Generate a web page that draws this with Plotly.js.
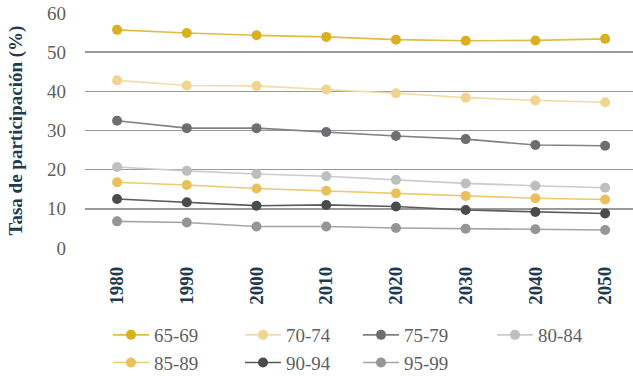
<!DOCTYPE html>
<html>
<head>
<meta charset="utf-8">
<script src="https://cdn.plot.ly/plotly-3.0.1.min.js"></script>
<style>
  html, body { margin: 0; padding: 0; background: #ffffff; }
  #chart { width: 633px; height: 376px; }
</style>
</head>
<body>
<div id="chart"></div>
<script>
// Tasa de participación por grupo de edad, 1980-2050
const years = ['1980', '1990', '2000', '2010', '2020', '2030', '2040', '2050'];
const groupNames = ['65-69', '70-74', '75-79', '80-84', '85-89', '90-94', '95-99'];

const g65_69 = [55.7, 54.9, 54.3, 53.9, 53.2, 52.9, 53.0, 53.4];
const g70_74 = [42.8, 41.5, 41.4, 40.5, 39.5, 38.4, 37.7, 37.2];
const g75_79 = [32.5, 30.6, 30.6, 29.6, 28.6, 27.8, 26.3, 26.1];
const g80_84 = [20.7, 19.7, 18.9, 18.3, 17.4, 16.5, 15.9, 15.4];
const g85_89 = [16.8, 16.1, 15.2, 14.6, 14.0, 13.3, 12.7, 12.4];
const g90_94 = [12.5, 11.7, 10.8, 11.0, 10.6, 9.7, 9.2, 8.8];
const g95_99 = [6.8, 6.5, 5.5, 5.5, 5.1, 4.9, 4.8, 4.6];

const yTitle = 'Tasa de participación (%)';

const seriesValues = [g65_69, g70_74, g75_79, g80_84, g85_89, g90_94, g95_99];
const markerColors = ['#DAAF20', '#F0D590', '#6D6E71', '#BDBEC0', '#E8C15A', '#4A4B4D', '#949598'];
const lineColors   = ['#E0BC45', '#F2DCA6', '#808184', '#CACBCD', '#EBC96F', '#5A5B5D', '#A4A5A8'];
// legend column for each series (4 columns, 2 rows)
const legendIds = ['legend', 'legend2', 'legend3', 'legend4', 'legend', 'legend2', 'legend3'];

const serif = '"Liberation Serif", "Times New Roman", serif';
const navy = '#223A4E';
const grey = '#5F5F5F';

const W = 633, H = 376;
const M = { l: 85, r: 0, t: 12.5, b: 128 };

const traces = groupNames.map((name, i) => ({
  type: 'scatter',
  mode: 'lines+markers',
  name: name,
  x: years,
  y: seriesValues[i],
  legend: legendIds[i],
  line: { color: lineColors[i], width: 1.6 },
  marker: { color: markerColors[i], size: 10, line: { width: 0 } },
  hoverinfo: 'skip'
}));

function legendAt(px) {
  return {
    xref: 'container', yref: 'container',
    x: px / W, y: 1 - 316 / H,
    xanchor: 'left', yanchor: 'top',
    orientation: 'v',
    bgcolor: 'rgba(0,0,0,0)',
    borderwidth: 0,
    itemwidth: 36,
    tracegroupgap: 0,
    font: { family: serif, size: 19, color: grey }
  };
}

const plotW = W - M.l - M.r;

const layout = {
  width: W,
  height: H,
  margin: { l: M.l, r: M.r, t: M.t, b: M.b, pad: 0, autoexpand: false },
  paper_bgcolor: '#ffffff',
  plot_bgcolor: '#ffffff',
  showlegend: true,
  xaxis: {
    type: 'category',
    range: [-0.46, 7.4],
    showgrid: false,
    zeroline: false,
    showline: false,
    ticks: '',
    tickangle: -90,
    automargin: false,
    ticklabelstandoff: 14,
    tickfont: { family: serif, size: 19, color: navy, weight: 'bold' },
    fixedrange: true
  },
  yaxis: {
    range: [0, 60],
    dtick: 10,
    showgrid: true,
    gridcolor: '#9A9A9A',
    gridwidth: 1.5,
    zeroline: false,
    showline: false,
    ticks: '',
    automargin: false,
    ticklabelstandoff: 18,
    tickfont: { family: serif, size: 19, color: grey },
    fixedrange: true
  },
  annotations: [{
    text: '<b>' + yTitle + '</b>',
    xref: 'paper', yref: 'paper',
    x: (15 - M.l) / plotW, y: 0.5,
    xanchor: 'center', yanchor: 'middle',
    textangle: -90,
    showarrow: false,
    font: { family: serif, size: 19, color: navy }
  }],
  legend: legendAt(108),
  legend2: legendAt(240),
  legend3: legendAt(358),
  legend4: legendAt(492)
};

Plotly.newPlot('chart', traces, layout, { displayModeBar: false, staticPlot: true });
</script>
</body>
</html>
